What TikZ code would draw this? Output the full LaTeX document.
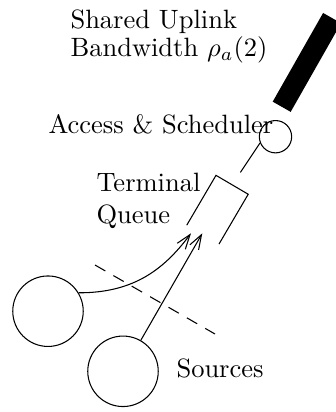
\documentclass[tikz,border=0pt]{standalone}
\usepackage{amsmath,amssymb}
\usetikzlibrary{arrows.meta, positioning, shapes.geometric}

\begin{document}
\begin{tikzpicture}[x=0.3774pt, y=-0.3774pt,
        txt/.style={inner sep=0pt, anchor=base west, align=left},
        source/.style={circle, draw, minimum size=26.6pt, inner sep=0pt},
        sched/.style={circle, draw, minimum size=12.2pt, inner sep=0pt},
        bar/.style={rectangle, fill=black, minimum width=38.5pt, minimum height=7.8pt, inner sep=0pt, rotate=60.4},
        queue/.style={rectangle, minimum width=21.4pt, minimum height=13.7pt, inner sep=0pt, rotate=59.6},
        >={Straight Barb[length=5.5pt, width=3.8pt]}
    ]
        \useasboundingbox (0,0) rectangle (335,412);
        \node[bar] (uplink) at (306.9,62.4) {};
        \node[sched] (access) at (275.5,136.7) {};
        \node[queue] (buffer) at (217.5,209.7) {};
        \node[source] (src1) at (48,311.2) {};
        \node[source] (src2) at (123,371.3) {};
        \coordinate (in1) at (191,233.3);
        \coordinate (in2) at (202.3,233.3);
        \node[txt, font=\fontsize{10}{10.7}\selectfont] (bwlabel) at (70,56.7) {Shared Uplink\\Bandwidth $\rho_a(2)$};
        \node[txt] (acclabel) at (48,133.3) {Access \& Scheduler};
        \node[txt] (qlabel) at (96,223.5) {Terminal\\Queue};
        \node[txt] (srclabel) at (176,377) {Sources};
        \draw (buffer.north west) -- (buffer.north east) -- (buffer.south east) -- (buffer.south west);
        \draw[shorten >=5.6pt] (access.202) -- (buffer.east);
        \draw[->] (src1.31) .. controls (135,293) and (165,268) .. (in1);
        \draw[->] (src2) -- (in2);
        \draw[dash pattern=on 4.5pt off 3.5pt] (95,265) -- (215,334);
    \end{tikzpicture}
\end{document}
